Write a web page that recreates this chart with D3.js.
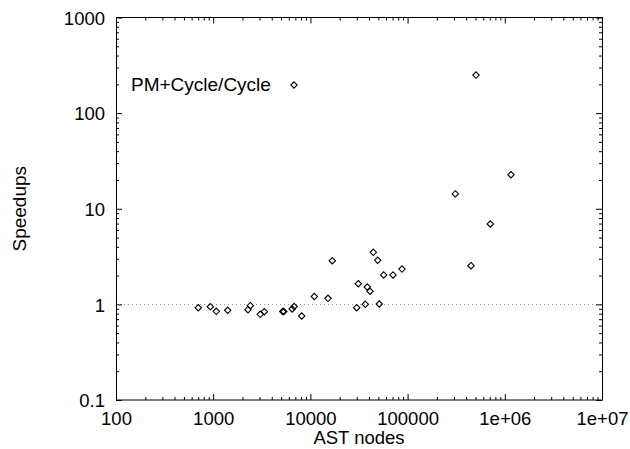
<!DOCTYPE html>
<html><head><meta charset="utf-8">
<script src="https://cdn.jsdelivr.net/npm/d3@7"></script>
<style>body{margin:0;background:#fff}svg{display:block}text{font-family:"Liberation Sans",Arial,sans-serif;fill:#000}</style>
</head><body><svg id="c" width="630" height="449"></svg>
<script>
const astNodes = [702,934,1076,1410,2280,2408,3052,3356,5200,5330,6500,6812,8137,10970,15180,16800,29950,31100,36710,38480,41050,44380,49250,51140,56770,70760,87590,309600,449000,505400,709300,1158000];
const speedups = [0.923,0.945,0.846,0.867,0.880,0.969,0.787,0.838,0.842,0.842,0.895,0.950,0.756,1.209,1.157,2.86,0.923,1.645,1.002,1.52,1.37,3.50,2.89,1.009,2.03,2.03,2.34,14.3,2.54,250,6.93,22.7];
const xTickValues = [100,1000,10000,100000,1e6,1e7];
const xTickLabels = ["100","1000","10000","100000","1e+06","1e+07"];
const yTickValues = [0.1,1,10,100,1000];
const yTickLabels = ["0.1","1","10","100","1000"];
const seriesName = "PM+Cycle/Cycle";

const svg = d3.select("#c");
const L=116,R=602,T=17.5,B=400;
const FS=18.5;
const x = d3.scaleLog().domain([100,1e7]).range([L,R]);
const y = d3.scaleLog().domain([0.1,1000]).range([B,T]);

function minors(dom){const out=[];for(let d=dom[0];d<dom[1];d*=10){for(let k=2;k<=9;k++)out.push(d*k);}return out;}
const xMin = minors([100,1e7]), yMin = minors([0.1,1000]);

// reference line at 1
svg.append("line").attr("x1",L).attr("x2",R).attr("y1",Math.round(y(1))+0.5).attr("y2",Math.round(y(1))+0.5)
  .attr("stroke","#999").attr("stroke-width",1).attr("stroke-dasharray","1,3");

function clean(s){s.select(".domain").remove();s.selectAll("line").attr("stroke","#000");}
// bottom axis
const gx = svg.append("g").attr("transform",`translate(0,${B})`)
  .call(d3.axisBottom(x).tickValues(xTickValues).tickSize(-6).tickFormat((d,i)=>xTickLabels[i]));
clean(gx);
gx.selectAll("text").attr("font-size",FS).attr("y",25).attr("dy",0);
svg.append("g").attr("transform",`translate(0,${B})`).call(d3.axisBottom(x).tickValues(xMin).tickSize(-3).tickFormat("")).call(clean);
// top
svg.append("g").attr("transform",`translate(0,${T})`).call(d3.axisTop(x).tickValues(xTickValues).tickSize(-6).tickFormat("")).call(clean);
svg.append("g").attr("transform",`translate(0,${T})`).call(d3.axisTop(x).tickValues(xMin).tickSize(-3).tickFormat("")).call(clean);
// left
const gy = svg.append("g").attr("transform",`translate(${L},0)`)
  .call(d3.axisLeft(y).tickValues(yTickValues).tickSize(-6).tickFormat((d,i)=>yTickLabels[i]));
clean(gy);
gy.selectAll("text").attr("font-size",FS).attr("x",-11).attr("dy","0.36em");
svg.append("g").attr("transform",`translate(${L},0)`).call(d3.axisLeft(y).tickValues(yMin).tickSize(-3).tickFormat("")).call(clean);
// right
svg.append("g").attr("transform",`translate(${R},0)`).call(d3.axisRight(y).tickValues(yTickValues).tickSize(-6).tickFormat("")).call(clean);
svg.append("g").attr("transform",`translate(${R},0)`).call(d3.axisRight(y).tickValues(yMin).tickSize(-3).tickFormat("")).call(clean);

// frame
svg.append("rect").attr("x",L+0.5).attr("y",T).attr("width",R-L).attr("height",B-T)
  .attr("fill","none").attr("stroke","#000").attr("stroke-width",1);

// points
const diamond = (cx,cy,r)=>`M${cx},${cy-r}L${cx+r},${cy}L${cx},${cy+r}L${cx-r},${cy}Z`;
svg.append("g").selectAll("path").data(astNodes.map((v,i)=>[v,speedups[i]])).join("path")
  .attr("d",d=>diamond(x(d[0]),y(d[1]),3.2))
  .attr("fill","none").attr("stroke","#000").attr("stroke-width",1.1);

// legend
svg.append("text").attr("x",131).attr("y",90.5).attr("font-size",19).text(seriesName);
svg.append("path").attr("d",diamond(294,85,3.2)).attr("fill","none").attr("stroke","#000").attr("stroke-width",1.1);

// axis titles
svg.append("text").attr("x",(L+R)/2).attr("y",444).attr("text-anchor","middle").attr("font-size",FS).text("AST nodes");
svg.append("text").attr("transform",`translate(25.5,${(T+B)/2}) rotate(-90)`).attr("text-anchor","middle").attr("font-size",19).text("Speedups");
</script></body></html>
